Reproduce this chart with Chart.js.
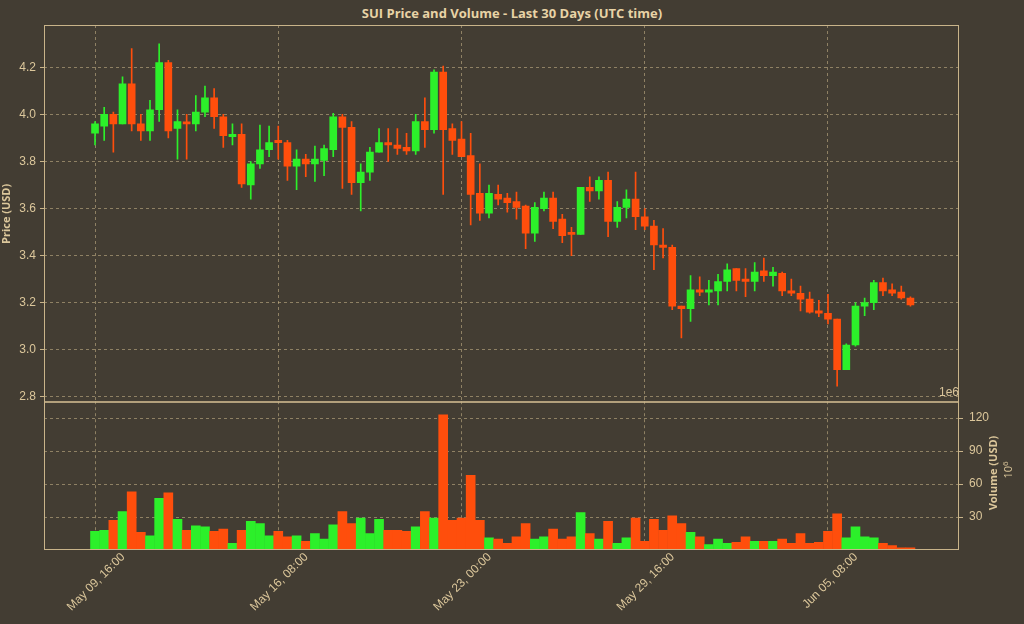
<!DOCTYPE html>
<html><head><meta charset="utf-8">
<script src="https://cdn.jsdelivr.net/npm/chart.js@4/dist/chart.umd.min.js"></script>
<style>
html,body{margin:0;padding:0;background:#433d33;width:1024px;height:624px;overflow:hidden;font-family:"Open Sans",sans-serif}
#t{position:absolute;left:0;width:1024px;top:4px;text-align:center;color:#e8d3a6;font-weight:bold;font-size:13px}
#e{position:absolute;right:65px;top:385px;color:#d9c49a;font-size:12px;font-family:"Liberation Sans",sans-serif}
#vt{position:absolute;left:992px;top:473px;color:#dcc79b;font-size:11px;font-weight:bold;transform:translate(-50%,-50%) rotate(-90deg);white-space:nowrap}
#vp{position:absolute;left:1007px;top:470px;color:#dcc79b;font-size:11px;transform:translate(-50%,-50%) rotate(-90deg);white-space:nowrap}
#c1{position:absolute;left:0;top:0}
#c2{position:absolute;left:0;top:388px}
</style></head><body>
<div id="t">SUI Price and Volume - Last 30 Days (UTC time)</div>
<canvas id="c1" width="1024" height="414"></canvas>
<canvas id="c2" width="1024" height="237"></canvas>
<div id="e">1e6</div>
<div id="vt">Volume (USD)</div>
<div id="vp">10<sup style="font-size:8px">6</sup></div>
<script>
const opens=[3.92,3.95,4.00,3.96,4.13,3.96,3.93,4.02,4.22,3.94,3.965,3.96,4.01,4.07,3.99,3.905,3.915,3.70,3.79,3.85,3.89,3.88,3.78,3.81,3.79,3.805,3.85,3.99,3.945,3.71,3.755,3.84,3.88,3.87,3.86,3.845,3.97,3.935,4.18,3.94,3.895,3.825,3.665,3.58,3.66,3.645,3.63,3.61,3.495,3.60,3.645,3.555,3.495,3.49,3.69,3.675,3.72,3.545,3.605,3.64,3.565,3.525,3.445,3.435,3.185,3.175,3.255,3.245,3.25,3.29,3.345,3.30,3.29,3.335,3.315,3.325,3.25,3.24,3.215,3.165,3.155,3.13,2.915,3.02,3.185,3.20,3.285,3.255,3.245,3.22];
const highs=[3.97,4.03,4.01,4.16,4.28,4.00,4.06,4.30,4.23,4.02,4.00,4.08,4.12,4.11,4.00,3.96,3.96,3.80,3.955,3.95,3.95,3.89,3.85,3.83,3.865,3.87,4.005,4.00,3.97,3.79,3.86,3.94,3.94,3.94,3.92,4.00,4.07,4.19,4.205,3.96,3.97,3.92,3.79,3.70,3.70,3.665,3.67,3.615,3.625,3.67,3.67,3.575,3.52,3.69,3.735,3.735,3.755,3.63,3.68,3.755,3.60,3.55,3.515,3.445,3.185,3.315,3.31,3.295,3.32,3.365,3.345,3.345,3.37,3.39,3.35,3.33,3.30,3.27,3.245,3.21,3.235,3.13,3.025,3.20,3.22,3.295,3.305,3.28,3.27,3.225];
const lows=[3.87,3.89,3.84,3.96,3.93,3.89,3.89,3.97,3.90,3.81,3.81,3.93,3.99,3.94,3.86,3.87,3.69,3.64,3.77,3.82,3.81,3.72,3.68,3.735,3.715,3.74,3.82,3.685,3.66,3.59,3.72,3.84,3.80,3.83,3.83,3.83,3.86,3.92,3.66,3.83,3.82,3.53,3.55,3.56,3.615,3.585,3.555,3.43,3.46,3.59,3.515,3.455,3.40,3.49,3.63,3.64,3.48,3.52,3.56,3.51,3.51,3.34,3.39,3.17,3.05,3.12,3.23,3.19,3.19,3.25,3.25,3.225,3.25,3.29,3.27,3.23,3.23,3.165,3.155,3.14,3.11,2.845,2.915,3.015,3.145,3.17,3.23,3.23,3.215,3.185];
const closes=[3.96,4.00,3.96,4.13,3.96,3.93,4.02,4.22,3.93,3.97,3.96,4.01,4.07,3.99,3.91,3.915,3.705,3.79,3.85,3.88,3.88,3.78,3.81,3.79,3.81,3.855,3.99,3.945,3.71,3.755,3.84,3.88,3.87,3.855,3.845,3.97,3.935,4.18,3.935,3.89,3.82,3.66,3.58,3.665,3.64,3.625,3.605,3.495,3.605,3.645,3.545,3.485,3.49,3.69,3.675,3.72,3.545,3.605,3.64,3.565,3.525,3.445,3.435,3.185,3.175,3.255,3.245,3.255,3.29,3.34,3.295,3.29,3.33,3.315,3.33,3.25,3.24,3.215,3.16,3.155,3.13,2.915,3.02,3.185,3.20,3.285,3.25,3.24,3.22,3.19];
const volumes=[17,18,27,35,53,16,13,47,52,28,18,22,21,17,19,6,18,26,24,13,17,12,13,8,15,10,23,35,24,29,15,28,18,18,17,21,35,29,123,27,29,68,27,11,10,6,12,24,10,12,19,10,12,34,15,10,26,6,11,29,8,28,18,31,24,16,12,5,10,6,7,12,8,8,8,10,6,15,6,7,17,33,11,21,12,11,6,4,2,2];
const tickIdx=[0,20,40,60,80];
const tickLabels=["May 09, 16:00","May 16, 08:00","May 23, 00:00","May 29, 16:00","Jun 05, 08:00"];

const UP='#2cf02a', DN='#ff4e0c', TXT='#dcc79b', GRID='rgba(205,185,140,0.55)';
const isUp=opens.map((o,i)=>closes[i]>=o);
const cols=isUp.map(u=>u?UP:DN);
const font={family:'"Liberation Sans", Arial, sans-serif',size:12};
const boxPlugin={id:'box',afterDraw(c){const a=c.chartArea,x=c.ctx;x.save();x.strokeStyle='#c9b48a';x.lineWidth=1;x.strokeRect(a.left+0.5,a.top+0.5,a.right-a.left-1,a.bottom-a.top-1);x.restore();}};
const xBase={type:'linear',min:-5.57,max:94.3,offset:false,
  afterBuildTicks(s){s.ticks=tickIdx.map(v=>({value:v}));},
  grid:{color:GRID,drawTicks:false,offset:false},border:{display:false,dash:[3,3]}};

new Chart(document.getElementById('c1'),{
  type:'bar',
  data:{datasets:[
    {data:opens.map((o,i)=>({x:i,y:[lows[i],highs[i]]})),backgroundColor:cols,barThickness:1,grouped:false,order:2},
    {data:opens.map((o,i)=>({x:i,y:[o,closes[i]]})),backgroundColor:cols,barThickness:7,grouped:false,minBarLength:2,order:1}
  ]},
  plugins:[boxPlugin],
  options:{responsive:false,animation:false,events:[],
    layout:{padding:{top:25,right:65,bottom:3,left:0}},
    plugins:{legend:{display:false},tooltip:{enabled:false}},
    scales:{
      x:Object.assign({},xBase,{ticks:{display:false},afterFit(s){s.height=0;}}),
      y:{min:2.7745,max:4.38,position:'left',
        afterBuildTicks(s){s.ticks=[2.8,3.0,3.2,3.4,3.6,3.8,4.0,4.2].map(v=>({value:v}));},
        afterFit(s){s.width=44;},
        ticks:{color:TXT,font,callback:v=>v.toFixed(1),padding:4},
        title:{display:true,text:'Price (USD)',color:TXT,font:{family:'"Open Sans", sans-serif',size:11,weight:'bold'},padding:0},
        grid:{color:GRID,drawTicks:true,tickLength:4,tickColor:'#c9b48a'},border:{display:false,dash:[3,3]}}
    }}
});

new Chart(document.getElementById('c2'),{
  type:'bar',
  data:{datasets:[{data:volumes.map((v,i)=>({x:i,y:v})),backgroundColor:cols,barThickness:9,grouped:false}]},
  plugins:[boxPlugin],
  options:{responsive:false,animation:false,events:[],
    layout:{padding:{top:2,right:0,bottom:0,left:44}},
    plugins:{legend:{display:false},tooltip:{enabled:false}},
    scales:{
      x:Object.assign({},xBase,{afterFit(s){s.height=75;},
        ticks:{color:TXT,font,minRotation:45,maxRotation:45,autoSkip:false,padding:0,labelOffset:28,
          callback:v=>{const k=tickIdx.indexOf(v);return k>=0?tickLabels[k]:'';}}}),
      y:{min:0,max:135.4,position:'right',
        afterBuildTicks(s){s.ticks=[30,60,90,120].map(v=>({value:v}));},
        afterFit(s){s.width=65;},
        ticks:{color:TXT,font,padding:6},
        grid:{color:GRID,drawTicks:true,tickLength:4,tickColor:'#c9b48a'},border:{display:false,dash:[3,3]}}
    }}
});
</script>
</body></html>
